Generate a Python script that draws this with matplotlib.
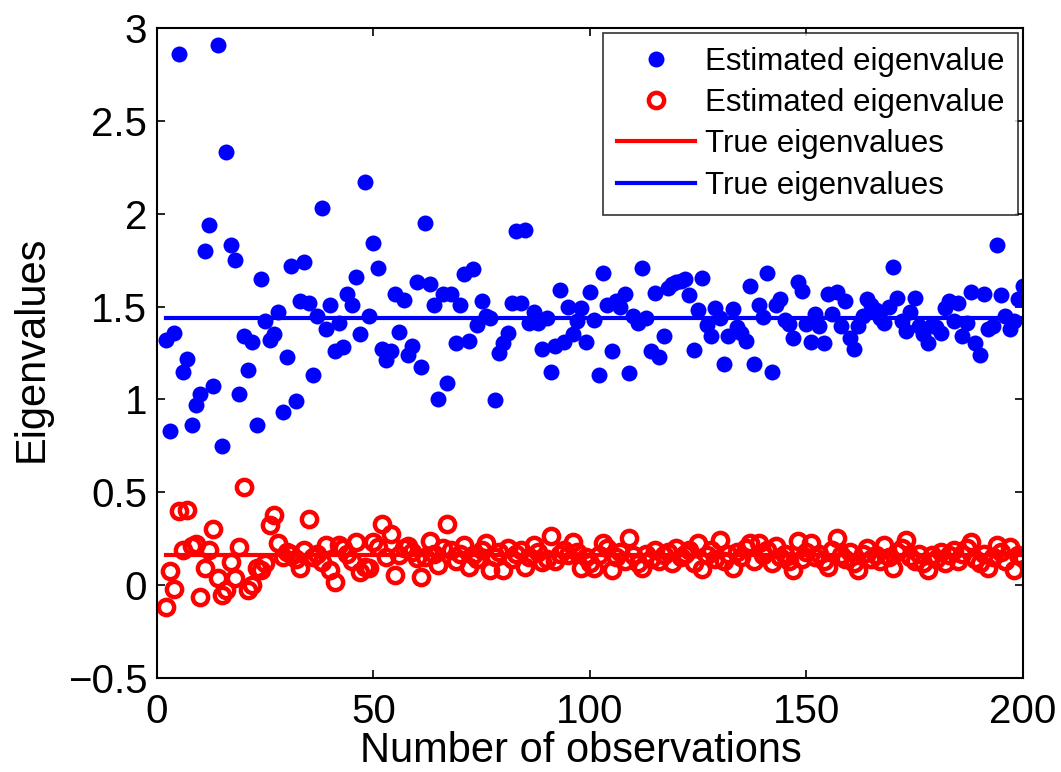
import matplotlib
matplotlib.use("Agg")
import matplotlib.pyplot as plt
import numpy as np

plt.rcParams['font.family'] = ['Liberation Sans', 'DejaVu Sans']

observations = list(range(2, 201))

est_large = [
    1.32, 0.83, 1.36, 2.86, 1.15, 1.22, 0.86, 0.97, 1.03, 1.80,
    1.94, 1.07, 2.91, 0.75, 2.33, 1.83, 1.75, 1.03, 1.34, 1.16,
    1.31, 0.86, 1.65, 1.42, 1.32, 1.35, 1.47, 0.93, 1.23, 1.72,
    0.99, 1.53, 1.74, 1.52, 1.13, 1.45, 2.03, 1.38, 1.51, 1.26,
    1.41, 1.28, 1.57, 1.51, 1.66, 1.35, 2.17, 1.45, 1.84, 1.71,
    1.27, 1.21, 1.26, 1.57, 1.365, 1.535, 1.24, 1.29, 1.63, 1.175,
    1.95, 1.62, 1.51, 1.00, 1.57, 1.09, 1.57, 1.305, 1.51, 1.675,
    1.315, 1.70, 1.40, 1.53, 1.45, 1.44, 0.995, 1.25, 1.305, 1.36,
    1.52, 1.905, 1.52, 1.91, 1.41, 1.47, 1.41, 1.27, 1.44, 1.15,
    1.29, 1.59, 1.31, 1.50, 1.35, 1.42, 1.49, 1.31, 1.58, 1.43,
    1.13, 1.68, 1.51, 1.26, 1.53, 1.50, 1.57, 1.14, 1.45, 1.41,
    1.71, 1.44, 1.26, 1.575, 1.23, 1.34, 1.60, 1.62, 1.63, 1.64,
    1.65, 1.56, 1.265, 1.48, 1.655, 1.40, 1.34, 1.495, 1.44, 1.19,
    1.34, 1.485, 1.39, 1.36, 1.315, 1.61, 1.19, 1.51, 1.445, 1.68,
    1.15, 1.51, 1.54, 1.43, 1.405, 1.33, 1.63, 1.585, 1.405, 1.31,
    1.46, 1.395, 1.305, 1.57, 1.46, 1.58, 1.395, 1.53, 1.33, 1.27,
    1.395, 1.45, 1.54, 1.51, 1.48, 1.44, 1.41, 1.50, 1.715, 1.545,
    1.42, 1.37, 1.47, 1.545, 1.395, 1.35, 1.305, 1.40, 1.39, 1.36,
    1.495, 1.53, 1.42, 1.52, 1.34, 1.41, 1.58, 1.305, 1.24, 1.57,
    1.38, 1.395, 1.83, 1.56, 1.45, 1.38, 1.42, 1.54, 1.61,
]

est_small = [
    -0.117, 0.076, -0.02, 0.40, 0.19, 0.405, 0.21, 0.22, -0.063, 0.094,
    0.19, 0.30, 0.036, -0.053, -0.026, 0.126, 0.04, 0.207, 0.526, -0.027,
    0.0, 0.094, 0.082, 0.12, 0.325, 0.379, 0.225, 0.15, 0.18, 0.17,
    0.14, 0.09, 0.19, 0.357, 0.15, 0.17, 0.126, 0.217, 0.082, 0.015,
    0.217, 0.20, 0.17, 0.13, 0.234, 0.07, 0.10, 0.09, 0.234, 0.207,
    0.328, 0.153, 0.274, 0.055, 0.16, 0.198, 0.213, 0.18, 0.144, 0.045,
    0.15, 0.238, 0.17, 0.109, 0.198, 0.328, 0.19, 0.13, 0.17, 0.217,
    0.10, 0.16, 0.14, 0.19, 0.225, 0.082, 0.15, 0.18, 0.082, 0.198,
    0.14, 0.17, 0.19, 0.10, 0.15, 0.217, 0.18, 0.126, 0.14, 0.267,
    0.13, 0.17, 0.19, 0.16, 0.234, 0.18, 0.09, 0.15, 0.117, 0.09,
    0.16, 0.225, 0.20, 0.08, 0.15, 0.18, 0.13, 0.256, 0.16, 0.12,
    0.09, 0.17, 0.14, 0.19, 0.13, 0.16, 0.18, 0.12, 0.20, 0.15,
    0.17, 0.19, 0.12, 0.225, 0.087, 0.16, 0.19, 0.14, 0.244, 0.13,
    0.17, 0.09, 0.18, 0.15, 0.20, 0.225, 0.13, 0.225, 0.16, 0.19,
    0.12, 0.21, 0.15, 0.17, 0.13, 0.08, 0.238, 0.14, 0.18, 0.225,
    0.15, 0.17, 0.13, 0.10, 0.19, 0.252, 0.16, 0.14, 0.18, 0.12,
    0.082, 0.17, 0.198, 0.14, 0.16, 0.13, 0.217, 0.15, 0.094, 0.18,
    0.20, 0.244, 0.15, 0.13, 0.17, 0.12, 0.082, 0.16, 0.14, 0.18,
    0.12, 0.16, 0.19, 0.13, 0.17, 0.20, 0.234, 0.14, 0.12, 0.17,
    0.09, 0.15, 0.217, 0.18, 0.13, 0.207, 0.082, 0.16, 0.144,
]

true_large = 1.44
true_small = 0.16

x_ticks = [0, 50, 100, 150, 200]
y_ticks = [-0.5, 0, 0.5, 1, 1.5, 2, 2.5, 3]
y_tick_labels = ['\u22120.5', '0', '0.5', '1', '1.5', '2', '2.5', '3']

fig = plt.figure(figsize=(10.61, 7.72), dpi=100)
ax = fig.add_axes([0.148, 0.1218, 0.816, 0.8419])

ax.plot(observations, est_large, 'o', color='#0000ff', markersize=11.5,
        markeredgewidth=0, label='Estimated eigenvalue')
ax.plot(observations, est_small, 'o', color='#ff0000', markerfacecolor='none',
        markersize=11, markeredgewidth=3.2, label='Estimated eigenvalue')
ax.plot([observations[0], observations[-1]], [true_small, true_small], '-',
        color='#ff0000', linewidth=3, label='True eigenvalues')
ax.plot([observations[0], observations[-1]], [true_large, true_large], '-',
        color='#0000ff', linewidth=3, label='True eigenvalues')

ax.set_xlim(0, 200)
ax.set_ylim(-0.5, 3)
ax.set_xticks(x_ticks)
ax.set_yticks(y_ticks)
ax.set_yticklabels(y_tick_labels)
ax.tick_params(direction='in', length=6, width=1.2, top=True, right=True,
               labelsize=29)
ax.tick_params(axis='x', pad=11)
ax.tick_params(axis='y', pad=7)
for s in ax.spines.values():
    s.set_linewidth(1.5)

ax.set_xlabel('Number of observations', fontsize=30, va='baseline')
ax.set_ylabel('Eigenvalues', fontsize=30)
ax.xaxis.set_label_coords(0.49, -0.1295)
ax.yaxis.set_label_coords(-0.122, 0.506)

leg = ax.legend(loc='upper right', fontsize=22.5, frameon=True, fancybox=False,
                edgecolor='black', borderaxespad=0.15, handlelength=2.5,
                handletextpad=0.3, labelspacing=0.36, borderpad=0.45)
leg.get_frame().set_linewidth(1.2)

fig.savefig('out.png', dpi=100)
